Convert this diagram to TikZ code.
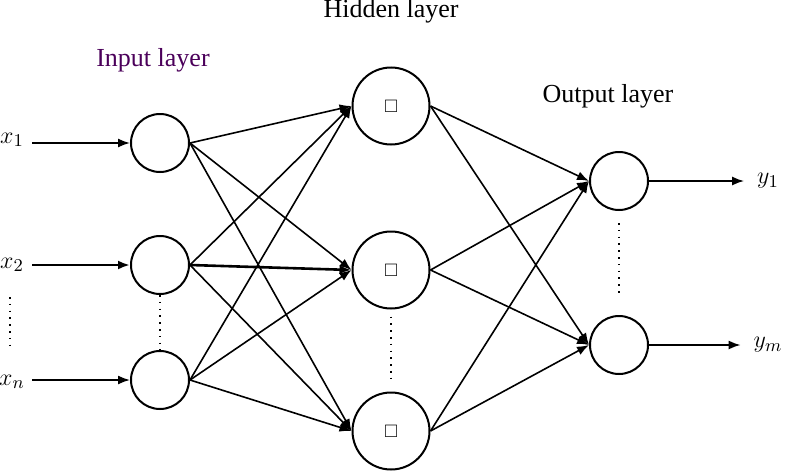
\documentclass[tikz,border=0pt]{standalone}
\usepackage{amssymb}
\usepackage{fontspec}
\setmainfont{Liberation Serif}
\usetikzlibrary{arrows.meta}
\definecolor{labpurple}{RGB}{75,0,90}

\begin{document}
\begin{tikzpicture}[x=0.5pt,y=-0.5pt,font=\fontsize{13}{15}\selectfont,
  neuron/.style={draw,circle,line width=1pt,inner sep=0pt,minimum size=29pt},
  bigneuron/.style={neuron,minimum size=38.5pt},
  link/.style={line width=0.8pt,-{Latex[length=6pt,width=4.5pt]}},
  boldlink/.style={link,line width=1.3pt},
  dotline/.style={line width=1pt,dash pattern=on 0.8pt off 2.6pt}]
  \useasboundingbox (0,0) rectangle (786,471);
  % layer titles
  \node[anchor=base,text=labpurple] (tin) at (153,66) {Input layer};
  \node[anchor=base] (thid) at (391,18) {Hidden layer};
  \node[anchor=base] (tout) at (608,102) {Output layer};
  % input layer
  \node[neuron] (i1) at (160,143) {};
  \node[neuron] (i2) at (160,265) {};
  \node[neuron] (i3) at (160,380) {};
  % hidden layer
  \foreach \h/\y in {1/106,2/270,3/431}
    \node[bigneuron] (h\h) at (391,\y) {\fontsize{9}{9}\selectfont$\square$};
  % output layer
  \node[neuron] (o1) at (619,181) {};
  \node[neuron] (o2) at (619,345) {};
  % inputs
  \node[anchor=base] (lx1) at (12,143) {$x_1$};
  \node[anchor=base] (lx2) at (12,268) {$x_2$};
  \node[anchor=base] (lx3) at (12,385) {$x_n$};
  \coordinate (s1) at (32,143);
  \coordinate (s2) at (32,265);
  \coordinate (s3) at (32,380);
  \draw[link] (s1) -- (i1);
  \draw[boldlink] (s2) -- (i2);
  \draw[link] (s3) -- (i3);
  % outputs
  \node (ly1) at (768,181) {$y_1$};
  \node (ly2) at (768,345) {$y_m$};
  \draw[link,shorten >=3pt] (o1) -- (ly1.west);
  \draw[link,shorten >=3pt] (o2) -- (ly2.west);
  % input -> hidden
  \foreach \i/\h in {1/1,1/2,1/3,2/1,2/3,3/1,3/2,3/3}
    \draw[link] (i\i.east) -- (h\h.west);
  \draw[boldlink] (i2.east) -- (h2.west);
  % hidden -> output
  \foreach \h in {1,2,3}
    \foreach \o in {1,2}
      \draw[link] (h\h.east) -- (o\o.west);
  % dotted gaps
  \coordinate (d1) at (10,297);
  \coordinate (d2) at (10,350);
  \draw[dotline] (d1) -- (d2);
  \draw[dotline] (i2) -- (i3);
  \draw[dotline] ([yshift=-3.5pt]h2.south) -- ([yshift=4.5pt]h3.north);
  \draw[dotline] ([yshift=-6pt]o1.south) -- ([yshift=9pt]o2.north);
\end{tikzpicture}
\end{document}
